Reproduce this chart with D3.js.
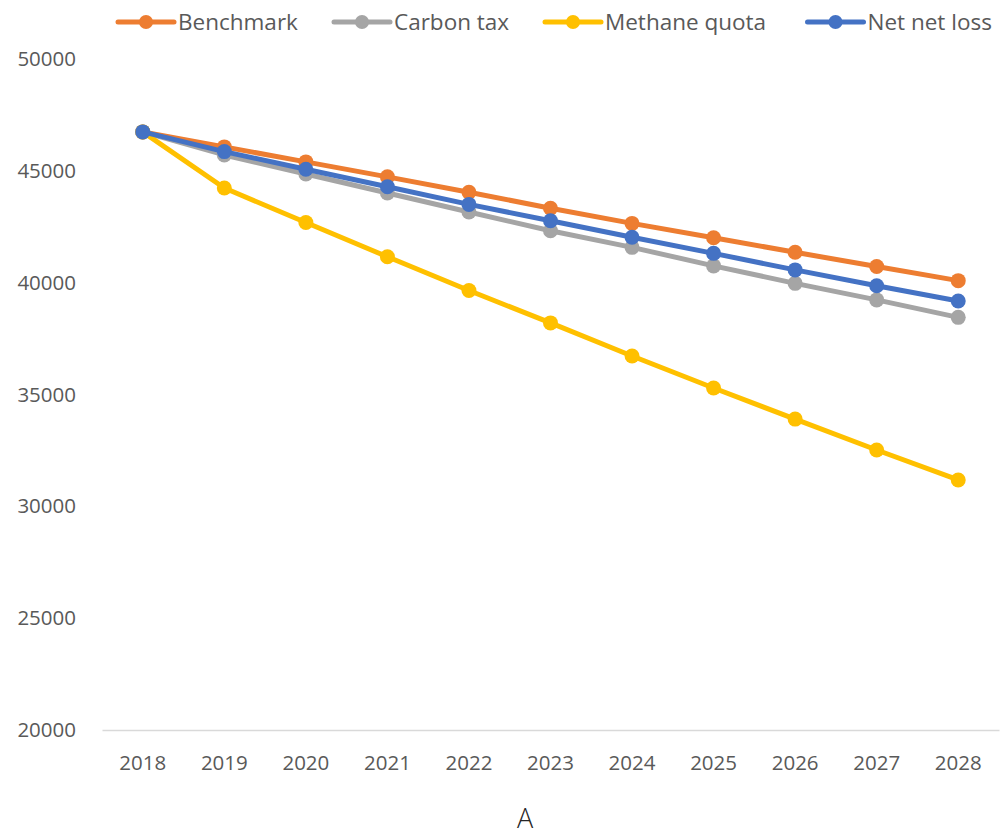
<!DOCTYPE html>
<html>
<head>
<meta charset="utf-8">
<script src="https://cdn.jsdelivr.net/npm/d3@7/dist/d3.min.js"></script>
<style>
  html, body { margin: 0; padding: 0; background: #fff; }
  svg { display: block; font-family: "Open Sans", "Noto Sans", sans-serif; }
</style>
</head>
<body>
<svg id="chart" width="1002" height="835"></svg>
<script>
// Emission trajectories by policy scenario, 2018–2028
const years = ["2018","2019","2020","2021","2022","2023","2024","2025","2026","2027","2028"];
const benchmark    = [46740, 46070, 45400, 44730, 44040, 43330, 42650, 42010, 41360, 40720, 40090];
const carbonTax    = [46740, 45710, 44860, 44010, 43160, 42320, 41580, 40750, 39970, 39230, 38450];
const methaneQuota = [46740, 44230, 42690, 41160, 39650, 38200, 36720, 35290, 33900, 32520, 31180];
const netNetLoss   = [46740, 45860, 45070, 44290, 43500, 42770, 42030, 41310, 40570, 39860, 39180];
const yTicks = [20000, 25000, 30000, 35000, 40000, 45000, 50000];
const seriesNames  = ["Benchmark", "Carbon tax", "Methane quota", "Net net loss"];
const seriesColors = ["#ED7D31", "#A5A5A5", "#FFC000", "#4472C4"];
const title = "A";

const seriesValues = [benchmark, carbonTax, methaneQuota, netNetLoss];
const series = seriesNames.map((name, i) => ({ name, color: seriesColors[i], values: seriesValues[i] }));

const svg = d3.select("#chart");
const textColor = "#595959";

const x = d3.scaleBand().domain(years).range([102, 999]);
const y = d3.scaleLinear().domain([20000, 50000]).range([730, 59]);
const cx = d => x(d) + x.bandwidth() / 2;

// Y axis labels (no axis line)
const yAxis = svg.append("g")
  .attr("transform", "translate(76,0)")
  .call(d3.axisLeft(y).tickValues(yTicks).tickSize(0).tickPadding(0).tickFormat(d3.format("d")));
yAxis.select(".domain").remove();
yAxis.selectAll("text")
  .attr("fill", textColor)
  .style("font-size", "20.5px")
  .style("font-family", "'Open Sans', sans-serif");

// Category axis: light baseline at the minimum value
const xAxis = svg.append("g")
  .attr("transform", `translate(0,${y(20000)})`)
  .call(d3.axisBottom(x).tickSize(0).tickPadding(25));
xAxis.select(".domain").attr("stroke", "#D9D9D9").attr("stroke-width", 1.5);
xAxis.selectAll("text")
  .attr("fill", textColor)
  .style("font-size", "20.5px")
  .style("font-family", "'Open Sans', sans-serif");

// Series lines and markers
const line = d3.line()
  .x((d, i) => cx(years[i]))
  .y(d => y(d));

const g = svg.append("g");
series.forEach(s => {
  const sg = g.append("g");
  sg.append("path")
    .attr("d", line(s.values))
    .attr("fill", "none")
    .attr("stroke", s.color)
    .attr("stroke-width", 5)
    .attr("stroke-linejoin", "round")
    .attr("stroke-linecap", "round");
  sg.selectAll("circle")
    .data(s.values)
    .join("circle")
    .attr("cx", (d, i) => cx(years[i]))
    .attr("cy", d => y(d))
    .attr("r", 7.5)
    .attr("fill", s.color);
});

// Legend
const legendX = [118, 334, 545, 807.5];
const legend = svg.append("g");
series.forEach((s, i) => {
  const lg = legend.append("g").attr("transform", `translate(${legendX[i]},22)`);
  lg.append("line")
    .attr("x1", 0).attr("x2", 56)
    .attr("y1", 0).attr("y2", 0)
    .attr("stroke", s.color).attr("stroke-width", 5)
    .attr("stroke-linecap", "round");
  lg.append("circle").attr("cx", 28).attr("cy", 0).attr("r", 7).attr("fill", s.color);
  lg.append("text")
    .attr("x", 60).attr("y", 0)
    .attr("dy", "0.36em")
    .attr("fill", textColor)
    .style("font-size", "22.5px")
    .text(s.name);
});

// Chart title beneath the axis
svg.append("text")
  .attr("x", 525).attr("y", 828)
  .attr("text-anchor", "middle")
  .attr("fill", "#262626")
  .style("font-size", "27px")
  .style("font-weight", 300)
  .text(title);
</script>
</body>
</html>
